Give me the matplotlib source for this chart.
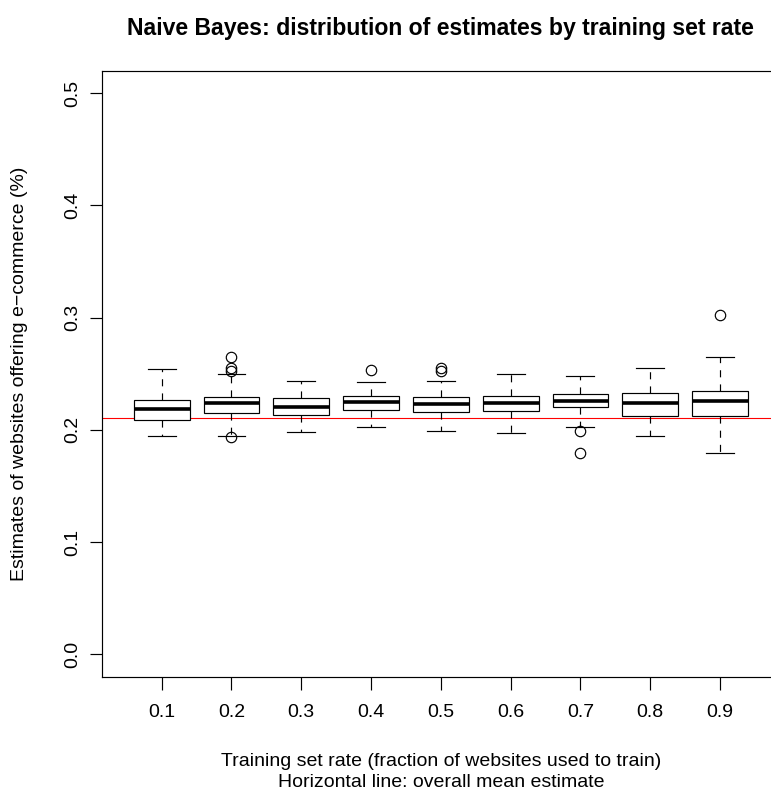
import matplotlib
matplotlib.use("Agg")
import matplotlib.pyplot as plt

plt.rcParams['font.family'] = ['Liberation Sans', 'DejaVu Sans']

rates = ["0.1", "0.2", "0.3", "0.4", "0.5", "0.6", "0.7", "0.8", "0.9"]
whislo = [0.1943, 0.1945, 0.1984, 0.2028, 0.1990, 0.1975, 0.2028, 0.1943, 0.1797]
q1 = [0.2091, 0.2150, 0.2132, 0.2174, 0.2162, 0.2168, 0.2204, 0.2123, 0.2120]
med = [0.2186, 0.2236, 0.2200, 0.2251, 0.2230, 0.2239, 0.2257, 0.2239, 0.2257]
q3 = [0.2269, 0.2289, 0.2280, 0.2304, 0.2289, 0.2301, 0.2322, 0.2328, 0.2349]
whishi = [0.2544, 0.2497, 0.2432, 0.2426, 0.2438, 0.2497, 0.2482, 0.2553, 0.2651]
fliers = [[], [0.2648, 0.2550, 0.2520, 0.1937], [], [0.2536], [0.2551, 0.2521],
          [], [0.1987, 0.1791], [], [0.3019]]
overall_mean = 0.2102
yticks = [0.0, 0.1, 0.2, 0.3, 0.4, 0.5]

W, H = 771, 794
fig = plt.figure(figsize=(W / 100, H / 100), dpi=100)
left, right, top, bottom = 101.7, 780.0, 70.7, 676.7
ax = fig.add_axes([left / W, 1 - bottom / H, (right - left) / W, (bottom - top) / H])

stats = []
for i in range(len(rates)):
    stats.append(dict(med=med[i], q1=q1[i], q3=q3[i], whislo=whislo[i],
                      whishi=whishi[i], fliers=fliers[i], label=rates[i]))

positions = list(range(1, len(rates) + 1))
ax.bxp(stats, positions=positions, widths=0.8, patch_artist=True,
       showfliers=True,
       boxprops=dict(facecolor='white', edgecolor='black', linewidth=0.85),
       medianprops=dict(color='black', linewidth=2.6, solid_capstyle='butt'),
       whiskerprops=dict(color='black', linewidth=0.85, linestyle=(0, (6, 6))),
       capprops=dict(color='black', linewidth=0.85),
       capwidths=0.4,
       flierprops=dict(marker='o', markerfacecolor='none', markeredgecolor='black',
                       markersize=7.5, markeredgewidth=0.85, linestyle='none'))

ax.axhline(overall_mean, color='red', linewidth=0.8, zorder=0.5)

ax.set_xlim(0.14, 9.86)
ax.set_ylim(-0.02, 0.52)
ax.set_xticks(positions)
ax.set_xticklabels(rates)
ax.set_yticks(yticks)
ax.set_yticklabels([f"{v:.1f}" for v in yticks], rotation=90, va='center')

for s in ax.spines.values():
    s.set_linewidth(0.85)
    s.set_color('black')

ax.tick_params(axis='both', direction='out', length=9, width=0.85, labelsize=14)
ax.tick_params(axis='x', pad=10.5)
ax.tick_params(axis='y', pad=6)

cx = (left + right) / 2 / W
fig.text(cx, 1 - 28 / H, "Naive Bayes: distribution of estimates by training set rate",
         ha='center', va='center', fontsize=16.6, fontweight='bold')
fig.text(cx, 1 - 765.7 / H, "Training set rate (fraction of websites used to train)",
         ha='center', va='baseline', fontsize=14)
fig.text(cx, 1 - 787 / H, "Horizontal line: overall mean estimate",
         ha='center', va='baseline', fontsize=14)
fig.text(20 / W, 1 - 373.7 / H, "Estimates of websites offering e\u2212commerce (%)",
         ha='center', va='center', rotation=90, fontsize=14)

fig.savefig("out.png", dpi=100)
